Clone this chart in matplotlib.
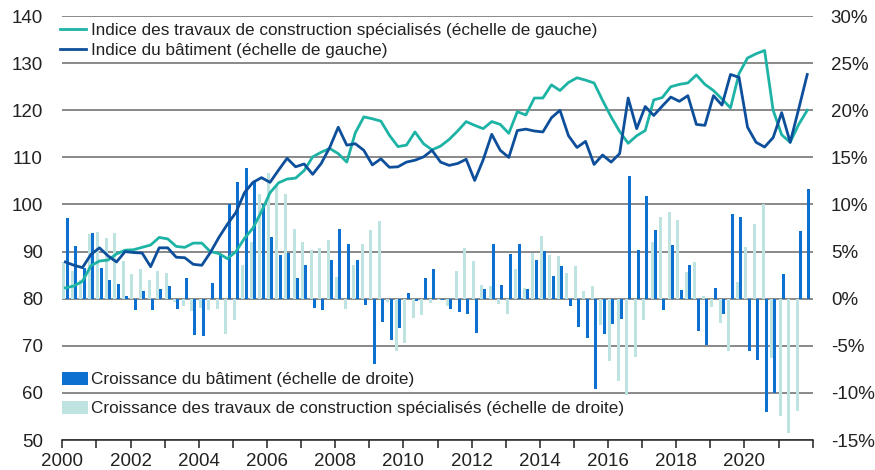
import numpy as np
import pandas as pd
import matplotlib
matplotlib.use("Agg")
import matplotlib.pyplot as plt
from matplotlib.ticker import MultipleLocator, FuncFormatter

plt.rcParams['font.family'] = ['Liberation Sans', 'DejaVu Sans']

# quarterly data 2000Q1 - 2021Q4
quarters = pd.period_range('2000Q1', '2021Q4', freq='Q')

# Indice des travaux de construction spécialisés (left scale)
idx_travaux = [
    82.3, 82.7, 83.7, 87.0, 88.0, 88.2, 89.5, 90.3, 90.4, 90.9, 91.4, 93.0,
    92.7, 91.1, 90.9, 91.8, 91.8, 90.0, 89.6, 88.5, 90.0, 92.8, 95.0, 98.5,
    102.5, 104.6, 105.4, 105.6, 107.2, 110.1, 111.1, 111.9, 110.8, 109.0, 115.2, 118.6,
    118.2, 117.7, 114.7, 112.3, 112.6, 115.4, 112.9, 111.6, 112.4, 113.8, 115.6, 117.6,
    116.8, 116.1, 117.6, 117.0, 115.1, 119.7, 119.0, 122.6, 122.6, 125.4, 124.2, 125.9,
    126.9, 126.4, 125.8, 122.1, 118.6, 115.5, 113.0, 114.6, 115.7, 122.2, 122.7, 125.0,
    125.5, 125.8, 127.5, 125.5, 124.2, 122.4, 120.5, 127.8, 131.1, 132.0, 132.7, 120.0,
    114.8, 113.2, 117.0, 120.0,
]

# Indice du bâtiment (left scale)
idx_batiment = [
    87.8, 87.1, 86.6, 89.4, 90.8, 89.1, 87.8, 90.0, 89.8, 89.7, 86.8, 90.8,
    90.8, 88.8, 88.7, 87.3, 87.1, 89.8, 93.0, 95.8, 98.3, 102.5, 104.7, 105.7,
    104.7, 107.3, 109.8, 108.0, 108.6, 106.4, 108.7, 112.1, 116.4, 112.6, 112.9, 111.5,
    108.4, 109.7, 107.9, 108.0, 109.0, 109.4, 110.1, 111.5, 109.0, 108.3, 108.7, 109.6,
    105.1, 109.5, 114.9, 111.5, 110.0, 115.7, 116.0, 115.6, 115.4, 118.4, 120.0, 114.6,
    112.1, 113.4, 108.5, 110.5, 109.0, 110.8, 122.6, 116.1, 120.8, 118.9, 120.9, 122.8,
    121.9, 123.1, 117.0, 116.8, 123.1, 121.1, 127.6, 127.0, 116.4, 113.2, 112.2, 114.2,
    119.5, 113.2, 120.3, 127.6,
]

# Croissance du bâtiment, % (right scale)
growth_batiment = [
    8.6, 5.6, 3.3, 7.0, 3.3, 2.0, 1.6, 0.3, -1.2, 0.8, -1.2, 1.0,
    1.4, -1.1, 2.2, -3.9, -4.0, 1.7, 4.7, 10.0, 12.4, 13.9, 12.5, 10.0,
    6.6, 4.6, 4.8, 2.2, 3.6, -1.0, -1.2, 4.1, 7.4, 5.8, 4.1, -0.7,
    -6.9, -2.5, -4.4, -3.1, 0.6, -0.2, 2.2, 3.2, -0.1, -1.1, -1.4, -1.6,
    -3.6, 1.0, 5.8, 1.5, 4.7, 5.8, 1.0, 4.1, 5.1, 2.4, 3.5, -0.8,
    -3.0, -4.2, -9.6, -3.7, -2.7, -2.2, 13.0, 5.2, 10.9, 7.3, -1.2, 5.7,
    0.9, 3.6, -3.4, -4.9, 1.1, -1.6, 9.0, 8.7, -5.5, -6.5, -12.0, -10.0,
    2.6, 0.0, 7.2, 11.6,
]

# Croissance des travaux de construction spécialisés, % (right scale)
growth_travaux = [
    3.9, 2.9, 2.0, 6.9, 7.1, 6.4, 7.0, 4.0, 2.6, 3.2, 2.0, 2.9,
    2.7, -0.3, -0.75, -1.3, -1.0, -1.2, -1.1, -3.7, -2.3, 3.6, 6.0, 11.1,
    13.3, 12.1, 11.1, 7.4, 6.0, 5.2, 5.4, 6.2, 2.3, -1.1, 3.6, 5.8,
    7.3, 8.2, -0.35, -5.5, -4.7, -2.1, -1.7, -0.5, -0.1, -0.8, 2.9, 5.4,
    4.0, 1.5, 1.3, -0.6, -1.6, 3.2, 1.1, 4.8, 6.7, 4.6, 4.5, 2.7,
    3.5, 0.8, 1.3, -2.8, -6.6, -8.7, -10.2, -6.2, -2.3, 6.0, 8.7, 9.2,
    8.4, 2.85, 3.9, 0.3, -0.9, -2.6, -5.5, 1.75, 5.5, 7.9, 10.1, -6.3,
    -12.5, -14.3, -11.9, np.nan,
]

lbl_travaux = "Indice des travaux de construction spécialisés (échelle de gauche)"
lbl_batiment = "Indice du bâtiment (échelle de gauche)"
lbl_g_batiment = "Croissance du bâtiment (échelle de droite)"
lbl_g_travaux = "Croissance des travaux de construction spécialisés (échelle de droite)"

c_teal = "#1db3a5"
c_navy = "#0d4f9b"
c_blue = "#0b70d0"
c_pale = "#bfe3e0"
c_grid = "#6a6a6a"
c_text = "#222222"

x = quarters.year + (quarters.quarter - 1) / 4 + 0.09
bw = 0.088

fig = plt.figure(figsize=(8.75, 4.7), dpi=100)
ax = fig.add_axes([0.0712, 0.0638, 0.8576, 0.902])   # bars, right scale
ax2 = ax.twinx()                                      # lines, left scale

b_trav = ax.bar(x - 0.047, growth_travaux, width=bw, color=c_pale, label=lbl_g_travaux, zorder=2)
b_bat = ax.bar(x + 0.05, growth_batiment, width=bw, color=c_blue, label=lbl_g_batiment, zorder=2)

l_trav, = ax2.plot(x, idx_travaux, color=c_teal, lw=2.0, label=lbl_travaux)
l_bat, = ax2.plot(x, idx_batiment, color=c_navy, lw=2.0, label=lbl_batiment)

ax.set_xlim(2000, 2022)
ax.set_ylim(-15, 30)
ax2.set_ylim(50, 140)

# grid on the bar axis so it sits behind the bars
ax.set_yticks(np.arange(-15, 31, 5))
ax.grid(axis='y', color=c_grid, lw=1.1, zorder=0)
ax.set_axisbelow(True)

ax.yaxis.tick_right()
ax.yaxis.set_major_formatter(FuncFormatter(lambda v, p: f"{v:.0f}%"))
ax.tick_params(axis='y', length=0, pad=13, labelsize=13.5, colors=c_text)
ax2.yaxis.tick_left()
ax2.set_yticks(np.arange(50, 141, 10))
ax2.tick_params(axis='y', length=0, pad=14, labelsize=13.5, colors=c_text)

ax.xaxis.set_major_locator(MultipleLocator(2))
ax.xaxis.set_minor_locator(MultipleLocator(1))
ax.xaxis.set_major_formatter(FuncFormatter(lambda v, p: "" if v >= 2022 else f"{v:.0f}"))
ax.tick_params(axis='x', which='both', length=6, width=1.1, direction='out', pad=3,
               labelsize=13.5, colors=c_text)

for a in (ax, ax2):
    for s in ('top', 'left', 'right'):
        a.spines[s].set_visible(False)
ax2.spines['bottom'].set_visible(False)
ax.spines['bottom'].set_linewidth(1.1)
ax.spines['bottom'].set_color(c_text)

leg1 = ax2.legend(handles=[l_trav, l_bat], loc='upper left', bbox_to_anchor=(-0.003, 0.984),
                  frameon=False, fontsize=12.35, handlelength=1.5, handletextpad=0.3,
                  labelspacing=0.3, borderpad=0, borderaxespad=0)
for t in leg1.get_texts():
    t.set_color(c_text)
ax2.add_artist(leg1)
leg2 = ax2.legend(handles=[b_bat, b_trav], loc='upper left', bbox_to_anchor=(-0.001, 0.161),
                  frameon=False, fontsize=12.35, handlelength=1.52, handleheight=0.83,
                  handletextpad=0.2, labelspacing=0.77, borderpad=0, borderaxespad=0)
for t in leg2.get_texts():
    t.set_color(c_text)

fig.savefig("out.png", dpi=100)
